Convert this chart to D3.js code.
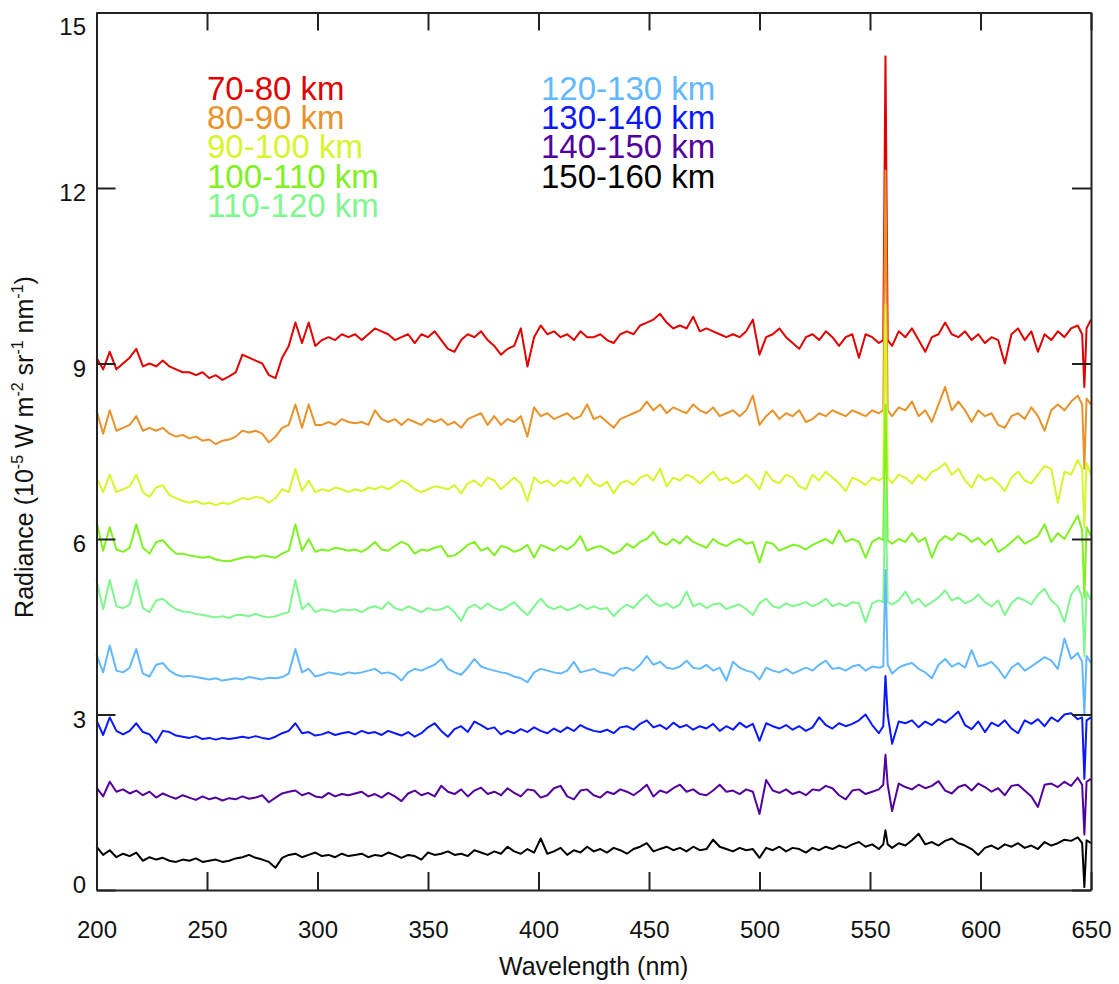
<!DOCTYPE html>
<html>
<head>
<meta charset="utf-8">
<script src="https://cdn.jsdelivr.net/npm/d3@7"></script>
<style>
  body { margin: 0; background: #fff; }
  svg text { font-family: "Liberation Sans", Arial, Helvetica, sans-serif; fill: #111; }
</style>
</head>
<body>
<svg id="chart" width="1119" height="984"></svg>
<script>
// Wavelength grid (nm)
const wavelengths = [
  200,203,206,209,212,215,218,221,224,227,
  230,233,236,239,242,245,248,251,254,257,
  260,263,266,269,272,275,278,281,284,287,
  290,293,296,299,302,305,308,311,314,317,
  320,323,326,329,332,335,338,341,344,347,
  350,353,356,359,362,365,368,371,374,377,
  380,383,386,389,392,395,398,401,404,407,
  410,413,416,419,422,425,428,431,434,437,
  440,443,446,449,452,455,458,461,464,467,
  470,473,476,479,482,485,488,491,494,497,
  500,503,506,509,512,515,518,521,524,527,
  530,533,536,539,542,545,548,551,554,556,
  557,558,560,563,566,569,572,575,578,581,
  584,587,590,593,596,599,602,605,608,611,
  614,617,620,623,626,629,632,635,638,641,
  644,646,647,648,650
];

// Radiance (1e-5 W m-2 sr-1 nm-1), one array per altitude bin
const rad70_80 = [
  9.1,8.9,9.2,8.9,9.0,9.1,9.25,8.95,9.0,8.95,
  9.05,8.95,8.9,8.85,8.85,8.8,8.85,8.75,8.8,8.72,
  8.78,8.85,9.15,9.1,9.05,9.0,8.8,8.75,9.1,9.3,
  9.7,9.35,9.7,9.3,9.4,9.45,9.4,9.5,9.45,9.5,
  9.4,9.5,9.6,9.55,9.5,9.4,9.45,9.5,9.35,9.5,
  9.45,9.55,9.4,9.25,9.2,9.4,9.5,9.45,9.55,9.4,
  9.3,9.15,9.25,9.3,9.6,8.95,9.45,9.65,9.5,9.55,
  9.45,9.5,9.4,9.55,9.45,9.45,9.5,9.4,9.35,9.5,
  9.55,9.5,9.65,9.7,9.75,9.85,9.7,9.6,9.65,9.6,
  9.8,9.55,9.6,9.55,9.5,9.45,9.5,9.45,9.55,9.75,
  9.15,9.45,9.5,9.6,9.45,9.35,9.25,9.45,9.5,9.4,
  9.55,9.45,9.3,9.45,9.5,9.1,9.5,9.45,9.35,9.4,
  14.25,9.4,9.3,9.55,9.45,9.6,9.4,9.2,9.45,9.5,
  9.7,9.5,9.45,9.55,9.4,9.5,9.35,9.45,9.4,9.0,
  9.5,9.6,9.4,9.55,9.2,9.5,9.4,9.55,9.45,9.6,
  9.65,9.5,8.6,9.6,9.75
];
const rad80_90 = [
  8.2,7.8,8.2,7.85,7.9,7.95,8.1,7.85,7.9,7.85,
  7.9,7.8,7.75,7.78,7.72,7.75,7.68,7.7,7.62,7.68,
  7.7,7.75,7.85,7.82,7.85,7.8,7.65,7.75,7.9,7.95,
  8.3,7.9,8.3,7.95,7.95,8.0,7.95,8.05,8.0,7.98,
  8.0,7.95,8.2,8.05,8.0,8.05,7.95,8.05,8.0,7.95,
  8.05,8.0,8.05,7.95,8.0,7.9,8.05,8.1,8.15,7.95,
  8.1,7.95,8.05,8.0,8.1,7.75,8.25,8.1,8.15,8.05,
  8.1,8.15,8.05,8.1,8.3,8.05,8.1,8.0,7.9,8.05,
  8.1,8.15,8.2,8.35,8.2,8.3,8.15,8.25,8.2,8.15,
  8.3,8.2,8.15,8.25,8.1,8.15,8.2,8.1,8.2,8.45,
  7.95,8.1,8.2,8.05,8.15,8.1,8.2,8.0,8.05,8.15,
  8.1,8.2,8.15,8.1,8.2,8.15,8.1,8.2,8.15,8.2,
  12.3,8.2,8.1,8.25,8.2,8.35,8.1,8.2,8.0,8.3,
  8.6,8.2,8.35,8.2,8.0,8.2,8.1,8.15,7.95,7.9,
  8.1,8.15,8.05,8.25,8.1,7.85,8.2,8.3,8.2,8.35,
  8.45,8.3,7.2,8.4,8.3
];
const rad90_100 = [
  7.05,6.8,7.1,6.8,6.85,6.9,7.1,6.8,6.72,6.88,
  6.92,6.75,6.7,6.65,6.62,6.65,6.6,6.62,6.58,6.62,
  6.6,6.65,6.7,6.68,6.72,6.7,6.62,6.7,6.85,6.8,
  7.2,6.82,7.0,6.8,6.85,6.82,6.88,6.85,6.8,6.85,
  6.82,6.88,6.85,6.9,6.85,6.92,7.0,6.95,6.85,6.8,
  6.85,6.9,6.88,6.85,6.92,6.78,6.95,7.0,6.9,7.05,
  7.0,6.85,6.95,7.05,6.95,6.65,7.05,6.95,7.0,6.9,
  7.0,6.95,7.05,6.9,7.1,6.95,6.9,6.98,6.78,6.95,
  7.0,6.92,7.05,7.1,7.0,7.2,6.9,7.05,7.0,7.1,
  7.05,6.95,7.05,7.15,7.0,7.05,6.95,7.0,7.1,7.0,
  6.85,7.15,7.0,6.95,7.1,7.05,6.9,6.85,7.1,7.0,
  7.15,7.05,6.95,6.82,7.05,7.0,6.92,7.05,7.0,7.05,
  10.0,7.05,6.95,7.1,7.05,6.95,7.1,7.0,7.15,7.2,
  7.3,7.1,7.2,7.0,6.88,7.1,7.0,7.05,6.95,6.82,
  7.05,7.15,7.0,6.95,7.1,7.25,7.2,6.62,7.15,7.1,
  7.35,7.2,6.2,7.3,7.1
];
const rad100_110 = [
  6.3,5.8,6.2,5.82,5.78,5.85,6.25,5.85,5.75,5.95,
  5.98,5.85,5.75,5.75,5.72,5.7,5.68,5.7,5.65,5.63,
  5.62,5.65,5.68,5.7,5.68,5.72,5.7,5.68,5.75,5.8,
  6.25,5.8,6.0,5.78,5.82,5.8,5.85,5.83,5.8,5.82,
  5.78,5.85,5.95,5.82,5.8,5.88,5.95,5.9,5.75,5.82,
  5.8,5.85,5.88,5.7,5.72,5.8,5.9,5.95,5.8,5.85,
  5.72,5.88,5.85,5.78,5.82,5.9,5.68,5.9,5.85,5.8,
  5.88,5.82,5.9,6.05,5.8,5.85,5.88,5.82,5.75,5.8,
  5.92,5.85,5.95,6.0,6.12,5.95,5.9,6.0,5.92,6.05,
  5.95,5.9,5.85,6.0,5.92,5.88,5.95,6.0,5.92,5.95,
  5.6,5.95,5.92,5.8,5.85,5.9,5.88,5.82,5.9,5.95,
  6.0,5.92,6.15,5.95,6.0,5.95,5.68,5.95,6.02,5.98,
  8.3,5.98,5.92,6.0,5.95,6.1,5.95,6.02,5.68,5.95,
  6.05,5.98,6.1,6.05,5.95,6.02,5.9,6.0,5.78,5.85,
  5.95,6.05,5.92,5.98,6.05,6.25,5.95,6.1,6.0,6.2,
  6.4,6.15,5.0,6.2,6.05
];
const rad110_120 = [
  5.3,4.8,5.3,4.85,4.82,4.88,5.3,4.82,4.75,4.95,
  4.98,4.88,4.8,4.76,4.75,4.72,4.7,4.68,4.66,4.68,
  4.65,4.7,4.7,4.68,4.72,4.68,4.66,4.68,4.72,4.75,
  5.3,4.8,4.9,4.75,4.8,4.78,4.75,4.8,4.78,4.8,
  4.75,4.82,4.85,4.8,4.92,4.82,4.78,4.85,4.8,4.75,
  4.82,4.78,4.8,4.85,4.75,4.6,4.82,4.88,4.8,4.9,
  4.82,4.78,4.85,4.92,4.8,4.7,4.85,4.98,4.85,4.8,
  4.85,4.78,4.82,4.88,4.8,4.85,4.8,4.82,4.68,4.8,
  4.88,4.82,4.95,5.05,4.92,4.85,4.9,4.82,4.88,5.1,
  4.85,4.9,4.82,4.88,4.9,4.8,4.85,4.88,4.8,4.7,
  4.9,4.98,4.85,4.82,4.9,4.85,4.88,4.92,4.85,4.9,
  4.98,4.85,4.9,4.85,4.92,4.9,4.58,4.9,4.95,4.92,
  6.85,4.92,4.88,4.95,5.1,4.9,4.98,4.85,4.92,5.0,
  5.12,4.95,5.0,4.9,4.95,5.05,4.92,4.85,4.95,4.7,
  4.9,5.0,4.95,4.88,5.05,5.15,4.95,4.85,4.58,5.05,
  5.2,5.0,4.0,5.1,4.95
];
const rad120_130 = [
  4.02,3.72,4.18,3.75,3.72,3.8,4.12,3.7,3.65,3.85,
  3.88,3.75,3.68,3.65,3.66,3.64,3.62,3.6,3.62,3.58,
  3.6,3.62,3.6,3.64,3.62,3.6,3.63,3.62,3.64,3.7,
  4.12,3.72,3.78,3.65,3.68,3.72,3.7,3.68,3.72,3.7,
  3.72,3.75,3.78,3.7,3.72,3.68,3.58,3.72,3.78,3.75,
  3.8,3.85,3.95,3.78,3.72,3.68,3.8,3.95,3.82,3.78,
  3.75,3.72,3.7,3.65,3.62,3.55,3.72,3.78,3.75,3.72,
  3.7,3.75,3.9,3.72,3.75,3.78,3.72,3.7,3.66,3.78,
  3.8,3.75,3.85,4.0,3.85,3.9,3.8,3.78,3.82,3.92,
  3.8,3.78,3.85,3.75,3.8,3.58,3.9,3.8,3.75,3.72,
  3.6,3.8,3.75,3.72,3.78,3.7,3.75,3.8,3.75,3.85,
  3.92,3.78,3.8,3.75,3.82,3.85,3.75,3.82,3.8,3.82,
  5.47,3.85,3.7,3.8,3.85,3.88,3.78,3.72,3.62,3.85,
  3.95,3.82,3.88,3.8,4.1,3.82,3.85,3.9,3.78,3.62,
  3.8,3.88,3.75,3.82,3.9,3.98,3.92,3.78,4.3,3.95,
  4.05,3.9,3.0,4.0,3.88
];
const rad130_140 = [
  2.9,2.65,2.95,2.72,2.66,2.72,2.85,2.7,2.66,2.52,
  2.72,2.7,2.64,2.62,2.6,2.63,2.58,2.6,2.57,2.6,
  2.58,2.6,2.62,2.6,2.63,2.6,2.58,2.62,2.68,2.72,
  2.85,2.68,2.7,2.64,2.66,2.7,2.65,2.68,2.7,2.66,
  2.72,2.68,2.7,2.65,2.72,2.68,2.64,2.7,2.62,2.68,
  2.78,2.85,2.72,2.62,2.75,2.8,2.7,2.88,2.82,2.75,
  2.78,2.66,2.72,2.68,2.75,2.7,2.78,2.72,2.68,2.76,
  2.7,2.78,2.72,2.82,2.76,2.72,2.7,2.74,2.68,2.78,
  2.8,2.74,2.84,2.9,2.78,2.82,2.75,2.86,2.78,2.82,
  2.74,2.8,2.76,2.84,2.72,2.8,2.74,2.86,2.78,2.84,
  2.55,2.85,2.8,2.76,2.82,2.74,2.8,2.72,2.78,2.95,
  2.82,2.76,2.85,2.8,2.84,2.9,3.0,2.82,2.68,2.8,
  3.66,3.0,2.5,2.88,2.85,2.9,2.78,2.88,2.82,2.92,
  2.86,2.95,3.05,2.82,2.75,2.88,2.7,2.86,2.8,2.9,
  2.76,2.68,2.9,2.84,2.92,2.8,2.95,2.88,3.0,3.02,
  2.92,2.95,1.9,2.9,2.95
];
const rad140_150 = [
  1.75,1.6,1.85,1.68,1.72,1.65,1.7,1.62,1.68,1.58,
  1.65,1.6,1.56,1.62,1.58,1.54,1.6,1.55,1.58,1.53,
  1.57,1.55,1.6,1.56,1.58,1.62,1.5,1.58,1.65,1.68,
  1.7,1.62,1.66,1.6,1.58,1.66,1.6,1.64,1.62,1.65,
  1.68,1.6,1.64,1.58,1.66,1.6,1.52,1.65,1.7,1.62,
  1.66,1.6,1.78,1.68,1.64,1.72,1.6,1.7,1.75,1.64,
  1.68,1.62,1.74,1.66,1.6,1.72,1.7,1.58,1.62,1.74,
  1.78,1.6,1.55,1.7,1.72,1.62,1.58,1.68,1.64,1.72,
  1.68,1.62,1.7,1.8,1.6,1.7,1.66,1.74,1.8,1.68,
  1.72,1.64,1.62,1.7,1.8,1.68,1.7,1.64,1.72,1.68,
  1.3,1.88,1.7,1.66,1.72,1.64,1.68,1.62,1.72,1.7,
  1.78,1.74,1.62,1.55,1.7,1.72,1.64,1.68,1.72,1.8,
  2.31,1.8,1.35,1.82,1.76,1.72,1.8,1.74,1.78,1.86,
  1.7,1.65,1.76,1.8,1.7,1.82,1.76,1.68,1.74,1.62,
  1.78,1.8,1.7,1.6,1.42,1.8,1.82,1.76,1.85,1.78,
  1.92,1.8,0.95,1.85,1.9
];
const rad150_160 = [
  0.74,0.6,0.68,0.56,0.62,0.58,0.64,0.5,0.56,0.52,
  0.55,0.5,0.48,0.52,0.5,0.54,0.48,0.5,0.52,0.48,
  0.5,0.54,0.56,0.6,0.55,0.52,0.48,0.38,0.55,0.6,
  0.62,0.56,0.6,0.64,0.58,0.6,0.56,0.62,0.58,0.6,
  0.62,0.56,0.6,0.58,0.64,0.6,0.55,0.6,0.58,0.52,
  0.64,0.6,0.62,0.66,0.6,0.62,0.58,0.68,0.64,0.6,
  0.66,0.62,0.74,0.66,0.62,0.7,0.64,0.88,0.62,0.66,
  0.72,0.6,0.68,0.64,0.74,0.66,0.7,0.64,0.72,0.68,
  0.62,0.7,0.74,0.8,0.66,0.7,0.74,0.68,0.72,0.66,
  0.74,0.68,0.7,0.86,0.74,0.7,0.66,0.72,0.68,0.7,
  0.55,0.72,0.68,0.74,0.66,0.72,0.7,0.64,0.72,0.68,
  0.74,0.7,0.76,0.72,0.78,0.82,0.74,0.78,0.7,0.78,
  1.02,0.78,0.72,0.8,0.76,0.85,0.96,0.78,0.82,0.76,
  0.84,0.88,0.8,0.76,0.7,0.6,0.72,0.76,0.7,0.78,
  0.74,0.8,0.72,0.76,0.7,0.82,0.76,0.8,0.86,0.84,
  0.9,0.8,0.05,0.85,0.8
];

const altitudeLabels = ["70-80 km", "80-90 km", "90-100 km", "100-110 km", "110-120 km",
                        "120-130 km", "130-140 km", "140-150 km", "150-160 km"];
const seriesColors   = ["#e00000", "#e8922a", "#d6f52c", "#7ff021", "#80f78e",
                        "#62b8ff", "#0a18ff", "#52009e", "#000000"];
const seriesValues   = [rad70_80, rad80_90, rad90_100, rad100_110, rad110_120,
                        rad120_130, rad130_140, rad140_150, rad150_160];

const xTicks = [200, 250, 300, 350, 400, 450, 500, 550, 600, 650];
const yTicks = [0, 3, 6, 9, 12, 15];

// Build series
const series = altitudeLabels.map((label, i) => ({
  label: label,
  color: seriesColors[i],
  points: wavelengths.map((w, j) => [w, seriesValues[i][j]])
}));

const svg = d3.select("#chart");
const margin = { left: 96.5, right: 1091, top: 12.5, bottom: 890 };

// Scales
const x = d3.scaleLinear().domain([200, 650]).range([margin.left, margin.right]);
const y = d3.scaleLinear().domain([0, 15]).range([margin.bottom, margin.top]);

// Spectra
const line = d3.line()
  .x(d => x(d[0]))
  .y(d => y(d[1]));

svg.append("g")
    .attr("class", "spectra")
  .selectAll("path")
  .data(series)
  .enter()
  .append("path")
    .attr("d", d => line(d.points))
    .attr("fill", "none")
    .attr("stroke", d => d.color)
    .attr("stroke-width", 2)
    .attr("stroke-linejoin", "round");

// Axes (ticks point inward on all four sides)
const styleAxis = g => {
  g.select(".domain").attr("stroke", "#222").attr("stroke-width", 2);
  g.selectAll(".tick line").attr("stroke", "#222").attr("stroke-width", 2);
  g.selectAll(".tick text").attr("fill", "#111").style("font-size", "24px")
   .style("font-family", "'Liberation Sans', Arial, Helvetica, sans-serif");
};

svg.append("g")
    .attr("transform", `translate(0,${margin.bottom})`)
    .call(d3.axisBottom(x).tickValues(xTicks).tickSize(-18).tickSizeOuter(0).tickPadding(31))
    .call(styleAxis);

svg.append("g")
    .attr("transform", `translate(0,${margin.top})`)
    .call(d3.axisTop(x).tickValues(xTicks).tickSize(-18).tickSizeOuter(0).tickFormat(""))
    .call(styleAxis);

const yAxis = svg.append("g")
    .attr("transform", `translate(${margin.left},0)`)
    .call(d3.axisLeft(y).tickValues(yTicks).tickSize(-19).tickSizeOuter(0).tickPadding(10.5))
    .call(styleAxis);

// keep the end labels inside the frame like the original
yAxis.selectAll(".tick text")
    .attr("y", d => Math.min(885, Math.max(27, y(d) + 5)) - y(d));

svg.append("g")
    .attr("transform", `translate(${margin.right},0)`)
    .call(d3.axisRight(y).tickValues(yTicks).tickSize(-19).tickSizeOuter(0).tickFormat(""))
    .call(styleAxis);

// Axis titles
svg.append("text")
    .attr("x", (margin.left + margin.right) / 2)
    .attr("y", 975)
    .attr("text-anchor", "middle")
    .style("font-size", "25px")
    .text("Wavelength (nm)");

const yTitle = svg.append("text")
    .attr("transform", "translate(33,447) rotate(-90)")
    .attr("text-anchor", "middle")
    .style("font-size", "25px");
const yTitleParts = [["Radiance (10", false], ["-5", true], [" W m", false], ["-2", true],
                     [" sr", false], ["-1", true], [" nm", false], ["-1", true], [")", false]];
let shifted = false;
yTitleParts.forEach(([txt, sup]) => {
  const t = yTitle.append("tspan").text(txt);
  if (sup && !shifted) { t.attr("dy", -10).style("font-size", "16px"); shifted = true; }
  else if (sup) { t.style("font-size", "16px"); }
  else if (shifted) { t.attr("dy", 10); shifted = false; }
});

// Legend
svg.append("g")
    .attr("class", "legend")
  .selectAll("text")
  .data(series)
  .enter()
  .append("text")
    .attr("x", (d, i) => i < 5 ? 207 : 541)
    .attr("y", (d, i) => 100 + (i % 5) * 29.2)
    .style("font-size", "33px")
    .style("fill", d => d.color)
    .text(d => d.label);
</script>
</body>
</html>
